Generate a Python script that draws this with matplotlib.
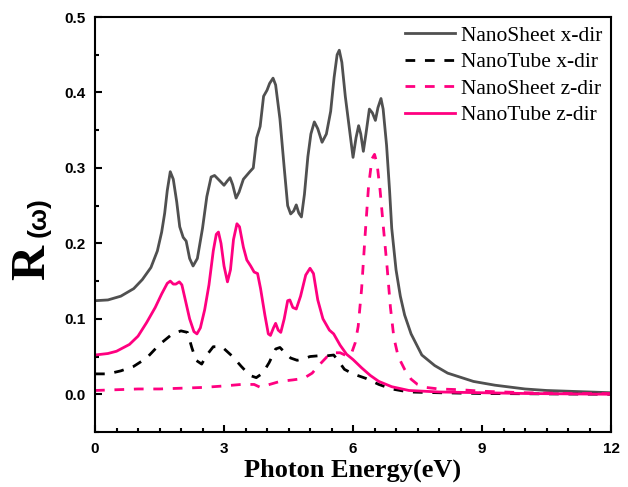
import matplotlib.pyplot as plt
from matplotlib.ticker import MultipleLocator

# Photon energy (eV) and reflectivity R(w)
ns_x_e = [0.0, 0.3, 0.6, 0.9, 1.1, 1.3, 1.45, 1.55, 1.62, 1.68, 1.75, 1.82, 1.9, 1.97,
          2.05, 2.12, 2.2, 2.28, 2.38, 2.5, 2.6, 2.7, 2.78, 2.9, 3.0, 3.08, 3.14, 3.2,
          3.28, 3.35, 3.45, 3.6, 3.68, 3.76, 3.84, 3.92, 4.0, 4.06, 4.14, 4.2, 4.3,
          4.4, 4.48, 4.55, 4.62, 4.68, 4.74, 4.8, 4.87, 4.95, 5.02, 5.1, 5.18, 5.28,
          5.38, 5.48, 5.56, 5.63, 5.68, 5.74, 5.82, 5.92, 6.0, 6.07, 6.13, 6.18, 6.24,
          6.3, 6.38, 6.45, 6.52, 6.58, 6.65, 6.7, 6.78, 6.85, 6.9, 7.0, 7.1, 7.2,
          7.35, 7.6, 7.9, 8.2, 8.8, 9.3, 10.0, 10.5, 11.0, 11.5, 12.0]
ns_x_r = [0.124, 0.125, 0.130, 0.140, 0.152, 0.168, 0.190, 0.215, 0.240, 0.270, 0.295,
          0.285, 0.255, 0.222, 0.208, 0.203, 0.180, 0.170, 0.180, 0.220, 0.262, 0.288,
          0.290, 0.283, 0.277, 0.283, 0.287, 0.278, 0.260, 0.268, 0.285, 0.295, 0.300,
          0.340, 0.355, 0.395, 0.403, 0.412, 0.419, 0.410, 0.365, 0.300, 0.250, 0.239,
          0.243, 0.251, 0.240, 0.235, 0.265, 0.315, 0.345, 0.361, 0.352, 0.334, 0.345,
          0.375, 0.420, 0.450, 0.456, 0.440, 0.395, 0.350, 0.314, 0.340, 0.356, 0.345,
          0.322, 0.345, 0.378, 0.373, 0.363, 0.380, 0.392, 0.378, 0.330, 0.270, 0.220,
          0.165, 0.130, 0.105, 0.080, 0.052, 0.038, 0.028, 0.017, 0.012, 0.007, 0.005,
          0.004, 0.003, 0.002]

nt_x_e = [0.0, 0.3, 0.6, 0.9, 1.2, 1.5, 1.8, 2.0, 2.15, 2.25, 2.35, 2.48, 2.6, 2.75,
          2.95, 3.2, 3.4, 3.6, 3.75, 3.9, 4.05, 4.2, 4.3, 4.42, 4.55, 4.7, 4.85, 5.0,
          5.2, 5.4, 5.55, 5.65, 5.8, 6.0, 6.3, 6.6, 6.9, 7.3, 8.0, 9.0, 12.0]
nt_x_r = [0.027, 0.027, 0.031, 0.037, 0.048, 0.066, 0.080, 0.084, 0.082, 0.062, 0.045,
          0.040, 0.052, 0.063, 0.063, 0.050, 0.037, 0.025, 0.022, 0.028, 0.042, 0.060,
          0.062, 0.055, 0.048, 0.045, 0.047, 0.050, 0.051, 0.051, 0.052, 0.045, 0.033,
          0.027, 0.021, 0.013, 0.007, 0.003, 0.002, 0.001, 0.000]

ns_z_e = [0.0, 0.5, 1.0, 1.5, 2.0, 2.5, 3.0, 3.4, 3.7, 3.85, 4.0, 4.3, 4.6, 4.85, 5.05,
          5.2, 5.4, 5.55, 5.7, 5.85, 5.95, 6.05, 6.12, 6.2, 6.28, 6.36, 6.44, 6.5,
          6.56, 6.63, 6.7, 6.79, 6.87, 6.95, 7.05, 7.2, 7.35, 7.5, 7.7, 8.0, 8.5,
          9.0, 10.0, 11.0, 12.0]
ns_z_r = [0.005, 0.006, 0.007, 0.007, 0.008, 0.009, 0.011, 0.013, 0.013, 0.009, 0.012,
          0.017, 0.019, 0.021, 0.028, 0.038, 0.050, 0.055, 0.055, 0.051, 0.052, 0.068,
          0.090, 0.140, 0.210, 0.275, 0.312, 0.318, 0.305, 0.270, 0.225, 0.170, 0.115,
          0.075, 0.050, 0.033, 0.020, 0.013, 0.009, 0.007, 0.006, 0.004, 0.002, 0.001,
          0.001]

nt_z_e = [0.0, 0.3, 0.5, 0.8, 1.0, 1.2, 1.4, 1.55, 1.68, 1.75, 1.82, 1.88, 1.96, 2.02,
          2.1, 2.2, 2.3, 2.37, 2.45, 2.55, 2.65, 2.75, 2.82, 2.87, 2.93, 3.0, 3.08,
          3.15, 3.22, 3.3, 3.36, 3.45, 3.53, 3.62, 3.7, 3.78, 3.85, 3.95, 4.03, 4.08,
          4.15, 4.2, 4.26, 4.32, 4.4, 4.48, 4.53, 4.6, 4.68, 4.78, 4.9, 5.0, 5.08,
          5.18, 5.3, 5.45, 5.55, 5.6, 5.7, 5.85, 6.0, 6.2, 6.4, 6.6, 6.9, 7.3, 8.0,
          9.0, 10.0, 12.0]
nt_z_r = [0.052, 0.054, 0.057, 0.066, 0.077, 0.095, 0.115, 0.133, 0.147, 0.150, 0.146,
          0.146, 0.149, 0.145, 0.125, 0.100, 0.083, 0.080, 0.088, 0.112, 0.145, 0.190,
          0.212, 0.215, 0.200, 0.170, 0.149, 0.165, 0.205, 0.226, 0.222, 0.195, 0.178,
          0.170, 0.162, 0.160, 0.140, 0.105, 0.080, 0.078, 0.088, 0.094, 0.085, 0.082,
          0.100, 0.124, 0.125, 0.115, 0.113, 0.130, 0.158, 0.167, 0.160, 0.125, 0.100,
          0.085, 0.080, 0.075, 0.065, 0.053, 0.046, 0.035, 0.025, 0.017, 0.010, 0.005,
          0.003, 0.002, 0.001, 0.000]

grey = '#505050'
pink = '#ff0080'
lw = 2.0

fig = plt.figure(figsize=(6.28, 4.87), dpi=100)
ax = fig.add_axes([0.1513, 0.113, 0.8217, 0.852])

ax.plot(ns_x_e, ns_x_r, color=grey, lw=lw, label='NanoSheet x-dir', solid_joinstyle='round')
ax.plot(nt_x_e, nt_x_r, color='black', lw=lw, ls=(0, (3.5, 3.5)), label='NanoTube x-dir')
ax.plot(ns_z_e, ns_z_r, color=pink, lw=lw, ls=(0, (3.5, 3.5)), label='NanoSheet z-dir')
ax.plot(nt_z_e, nt_z_r, color=pink, lw=lw, label='NanoTube z-dir', solid_joinstyle='round')

ax.set_xlim(0, 12)
ax.set_ylim(-0.05, 0.5)
ax.xaxis.set_major_locator(MultipleLocator(3))
ax.xaxis.set_minor_locator(MultipleLocator(0.5))
ax.yaxis.set_minor_locator(MultipleLocator(0.05))
ax.set_yticks([0.0, 0.1, 0.2, 0.3, 0.4, 0.5])
ax.set_yticklabels(['0.0', '0.1', '0.2', '0.3', '0.4', '0.5'])
ax.tick_params(which='both', direction='in', width=1.5, top=False, right=False)
ax.tick_params(which='major', length=5)
ax.tick_params(which='minor', length=3)
for lab in ax.get_xticklabels() + ax.get_yticklabels():
    lab.set_fontfamily('Liberation Sans')
    lab.set_fontweight('bold')
    lab.set_fontsize(11)
ax.tick_params(axis='both', pad=7)
for s in ax.spines.values():
    s.set_linewidth(1.5)

fig.text(353 / 628, 1 - 477 / 487, 'Photon Energy(eV)', ha='center', va='baseline',
         fontfamily='Liberation Serif', fontweight='bold', fontsize=19)
fig.text(54 / 628, 1 - 262 / 487, 'R', rotation=90, ha='right', va='center',
         fontfamily='Liberation Serif', fontweight='bold', fontsize=35)
fig.text(51 / 628, 1 - 217 / 487, '(ω)', rotation=90, ha='right', va='center',
         fontfamily='Liberation Sans', fontweight='bold', fontsize=19)

ax.legend(loc='upper right', frameon=False, prop={'family': 'Liberation Serif', 'size': 15.5},
          handlelength=2.3, handletextpad=0.3, labelspacing=0.3, borderaxespad=0.0)

fig.savefig('out.png', dpi=100)
